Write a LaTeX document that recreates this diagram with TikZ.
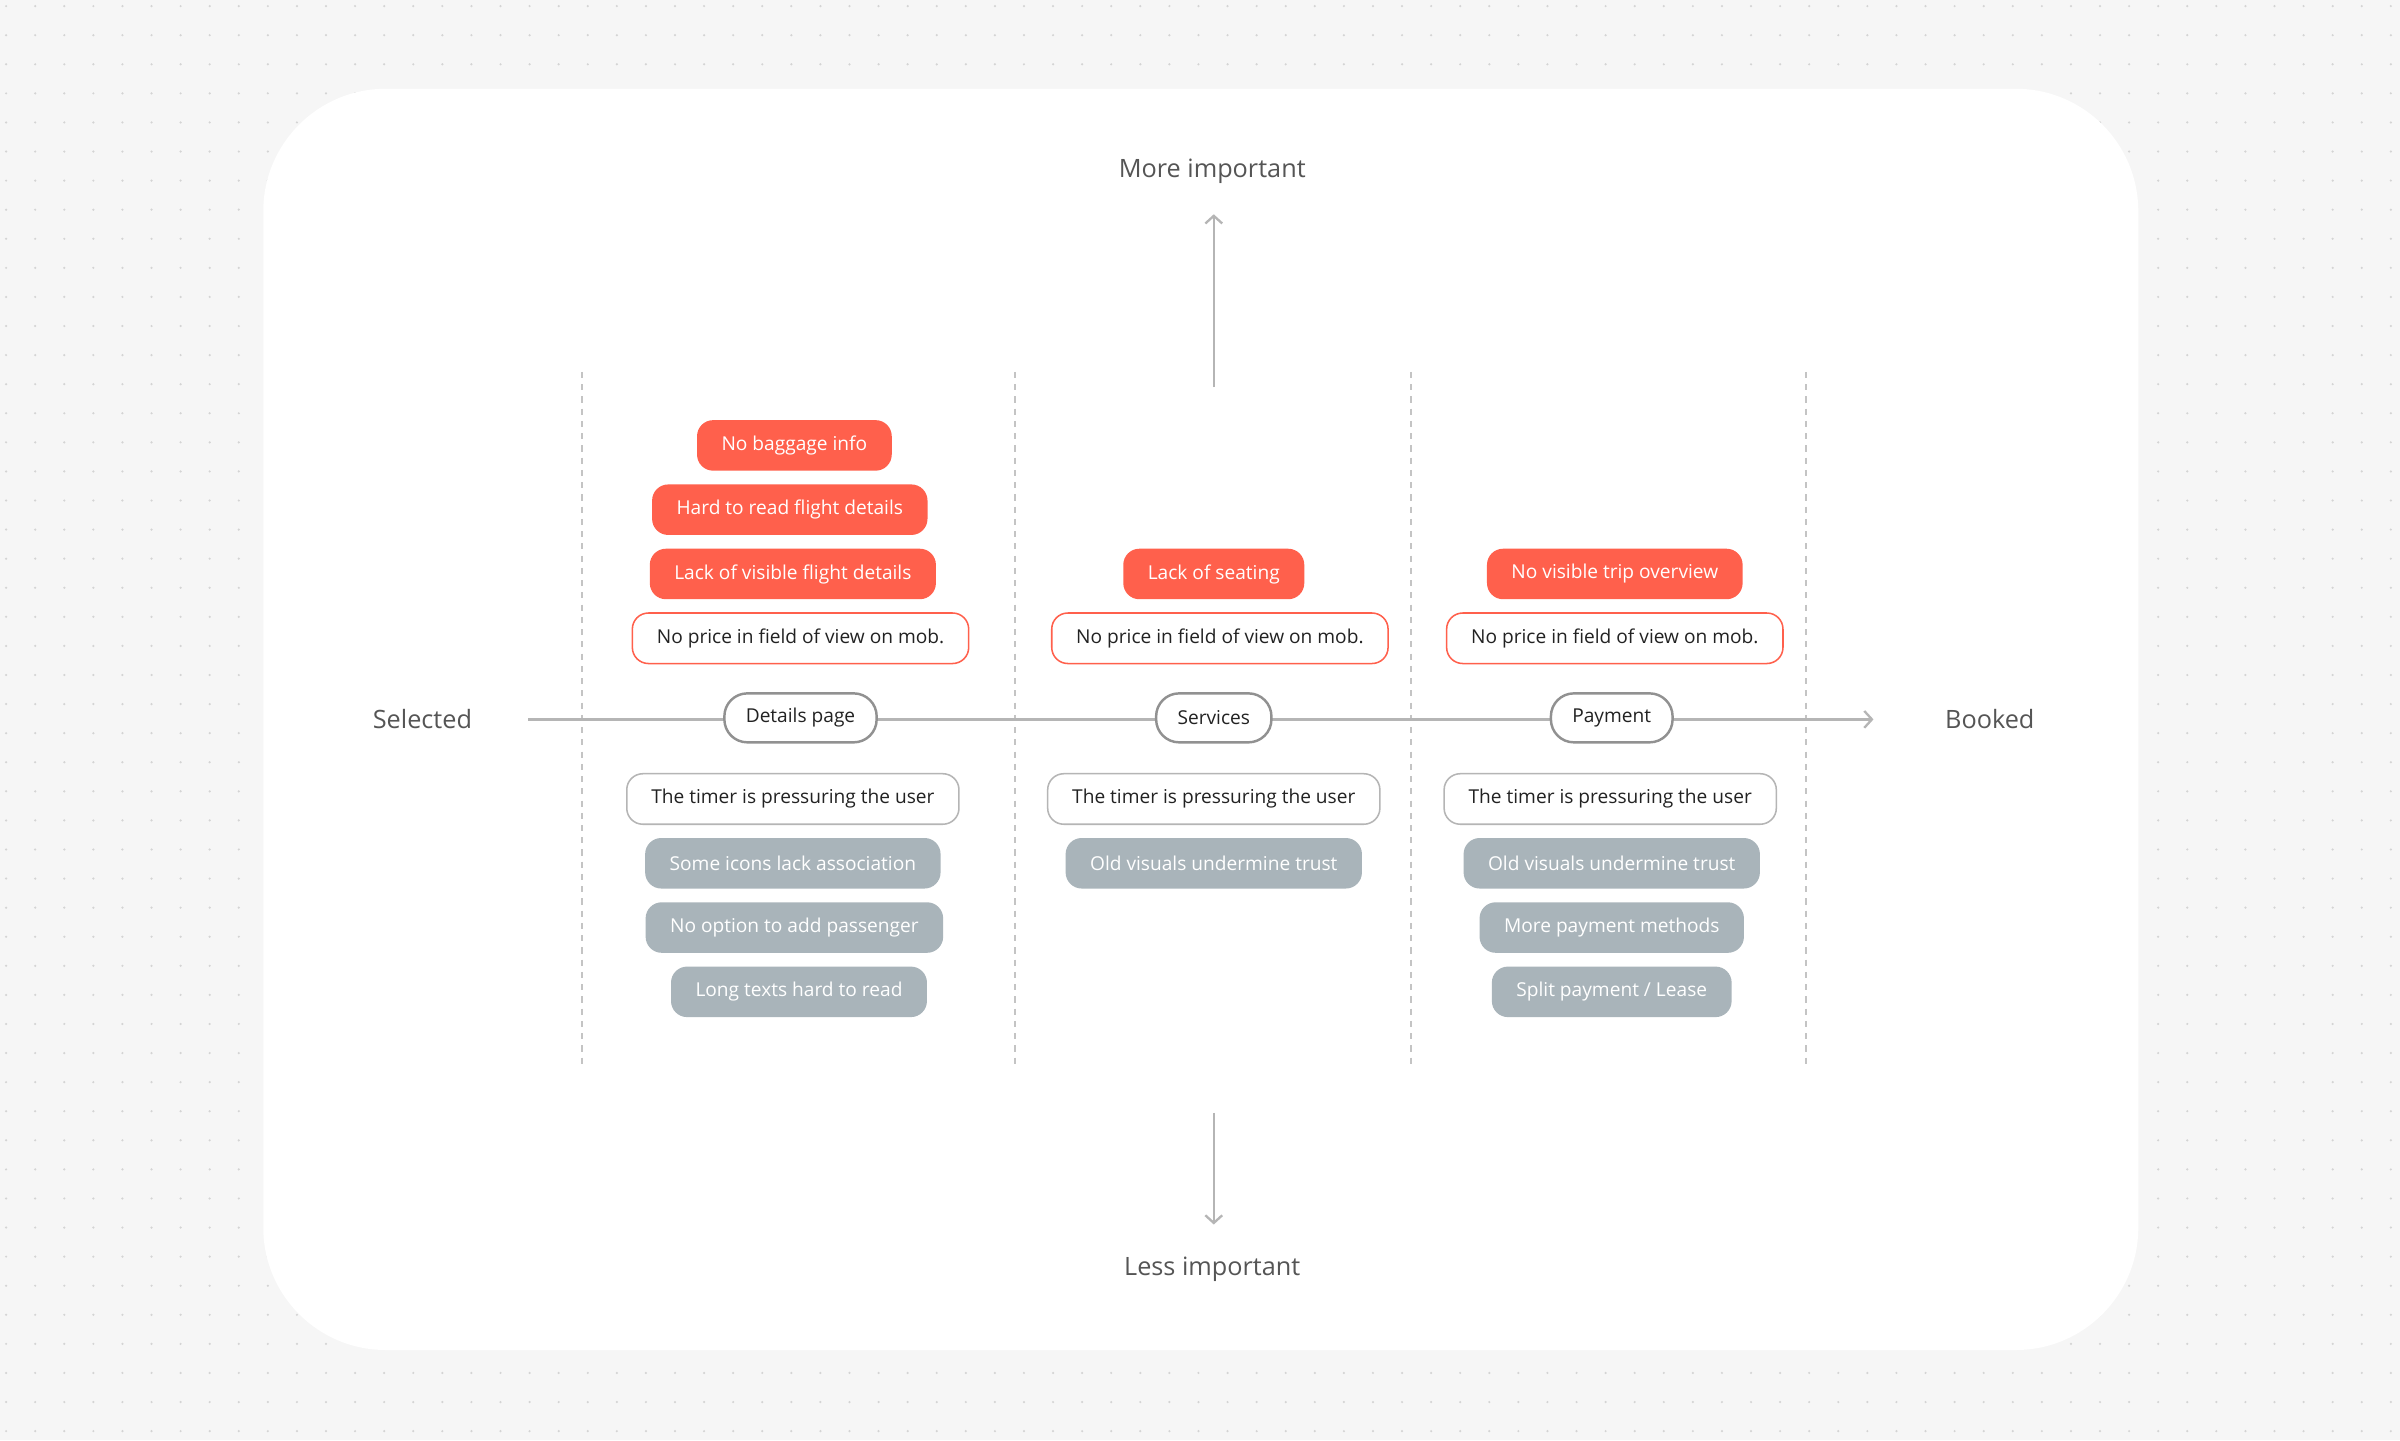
\documentclass[tikz,border=0pt]{standalone}
\usepackage{fontspec}
\setmainfont{Open Sans}
\usetikzlibrary{arrows.meta}
\definecolor{bg}{HTML}{F6F6F6}
\definecolor{dotc}{HTML}{D4D4D4}
\definecolor{redc}{HTML}{FF604C}
\definecolor{grayc}{HTML}{A9B4BA}
\definecolor{linec}{HTML}{B5B5B5}
\definecolor{txt}{HTML}{222222}
\definecolor{lbl}{HTML}{555555}
\tikzset{
 pill/.style={rounded corners=10.5pt,minimum height=33pt,inner xsep=16pt,font=\fontsize{12.5}{14}\selectfont,anchor=center},
 red/.style={pill,fill=redc,text=white},
 gry/.style={pill,fill=grayc,text=white},
 ored/.style={pill,draw=redc,line width=1pt,fill=white,text=txt},
 ogry/.style={pill,draw=linec,line width=1pt,fill=white,text=txt},
 stage/.style={pill,draw=linec!80!black,line width=1.6pt,fill=white,text=txt,minimum height=32pt,inner xsep=14pt,rounded corners=15pt},
 axl/.style={font=\fontsize{16.5}{18}\selectfont,text=lbl},
 ax/.style={draw=linec,line width=1.5pt},
 divider/.style={draw=linec!80,line width=1.4pt,dash pattern=on 4pt off 4pt}
}
\begin{document}
\begin{tikzpicture}[x=1pt,y=-1pt]
\fill[bg] (0,0) rectangle (1568,941);
\foreach \i in {0,...,82}{\foreach \j in {0,...,49}{\fill[dotc] (4+\i*19,4+\j*19) circle (0.8pt);}}
\fill[white] (172,58) [rounded corners=80pt] rectangle (1397,882);
\foreach \x in {380,663,922,1180}{\draw[divider] (\x,243) -- (\x,697);}
\node[axl] (sel) at (276,470) {Selected};
\node[axl] (bkd) at (1300,470) {Booked};
\node[axl] (mi) at (792,112) {More important};
\node[axl] (li) at (792,829) {Less important};
\coordinate (hs) at (345,470);
\coordinate (he) at (1224,470);
\coordinate (us) at (793,253);
\coordinate (ue) at (793,140);
\coordinate (ds) at (793,727);
\coordinate (de) at (793,800);
\draw[ax,-{Straight Barb[length=5pt,width=11pt]}] (hs) -- (he);
\draw[ax,-{Straight Barb[length=5pt,width=11pt]}] (us) -- (ue);
\draw[ax,-{Straight Barb[length=5pt,width=11pt]}] (ds) -- (de);
\node[stage] (s1) at (523,469) {Details page};
\node[stage] (s2) at (793,469) {Services};
\node[stage] (s3) at (1053,469) {Payment};
\node[red] (a1) at (519,291) {No baggage info};
\node[red] (a2) at (516,333) {Hard to read flight details};
\node[red] (a3) at (518,375) {Lack of visible flight details};
\node[ored] (a4) at (523,417) {No price in field of view on mob.};
\node[ogry] (a5) at (518,522) {The timer is pressuring the user};
\node[gry] (a6) at (518,564) {Some icons lack association};
\node[gry] (a7) at (519,606) {No option to add passenger};
\node[gry] (a8) at (522,648) {Long texts hard to read};
\node[red] (b1) at (793,375) {Lack of seating};
\node[ored] (b2) at (797,417) {No price in field of view on mob.};
\node[ogry] (b3) at (793,522) {The timer is pressuring the user};
\node[gry] (b4) at (793,564) {Old visuals undermine trust};
\node[red] (c1) at (1055,375) {No visible trip overview};
\node[ored] (c2) at (1055,417) {No price in field of view on mob.};
\node[ogry] (c3) at (1052,522) {The timer is pressuring the user};
\node[gry] (c4) at (1053,564) {Old visuals undermine trust};
\node[gry] (c5) at (1053,606) {More payment methods};
\node[gry] (c6) at (1053,648) {Split payment / Lease};
\end{tikzpicture}
\end{document}
